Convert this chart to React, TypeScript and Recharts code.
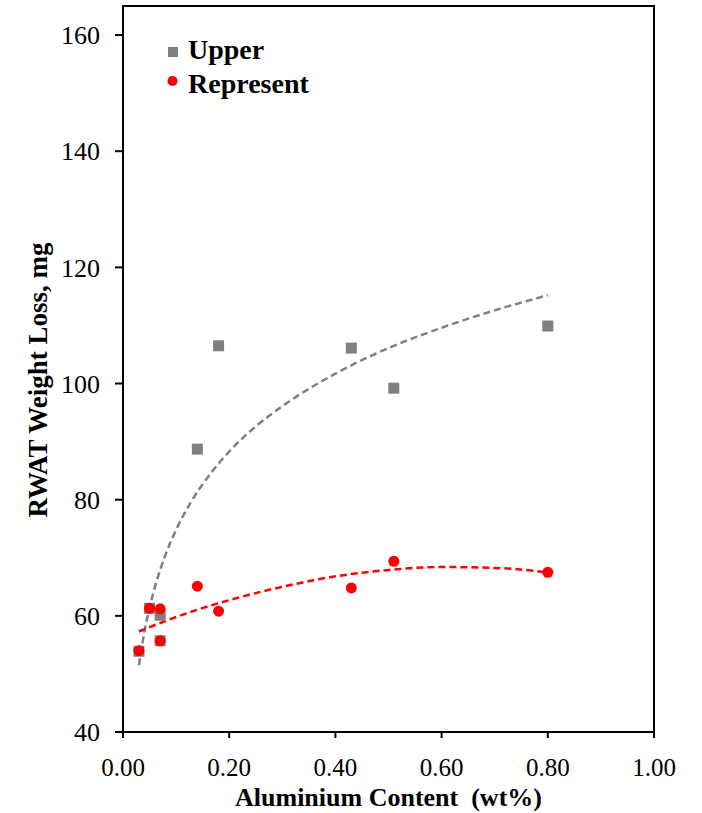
import React from 'react';
import { ComposedChart, Scatter, Line, XAxis, YAxis, ReferenceArea, Legend } from 'recharts';

const aluminium = [0.03, 0.05, 0.07, 0.07, 0.14, 0.18, 0.43, 0.51, 0.8];
const upperLoss = [53.9, 61.3, 60.1, 55.7, 88.7, 106.5, 106.1, 99.2, 109.9];
const representLoss = [54.0, 61.3, 61.2, 55.7, 65.1, 60.8, 64.8, 69.4, 67.5];

// dashed trend lines
const upperTrendX = [0.03, 0.04, 0.05, 0.06, 0.08, 0.1, 0.13, 0.16, 0.2, 0.25, 0.3, 0.4, 0.5, 0.6, 0.7, 0.8];
const upperTrendY = [51.5, 57.1, 61.4, 64.9, 70.5, 74.8, 79.9, 83.9, 88.3, 92.6, 96.1, 101.7, 106.1, 109.6, 112.6, 115.2];
const representTrendX = [0.03, 0.1, 0.2, 0.3, 0.4, 0.5, 0.6, 0.7, 0.8];
const representTrendY = [57.3, 59.8, 62.7, 65.0, 66.8, 67.9, 68.4, 68.25, 67.5];

const xTicks = [0, 0.2, 0.4, 0.6, 0.8, 1.0];
const xMinorTicks = [0, 0.04, 0.08, 0.12, 0.16, 0.2, 0.24, 0.28, 0.32, 0.36, 0.4, 0.44, 0.48, 0.52, 0.56, 0.6, 0.64, 0.68, 0.72, 0.76, 0.8, 0.84, 0.88, 0.92, 0.96, 1.0];
const yTicks = [40, 60, 80, 100, 120, 140, 160];
const yMinorTicks = [40, 45, 50, 55, 60, 65, 70, 75, 80, 85, 90, 95, 100, 105, 110, 115, 120, 125, 130, 135, 140, 145, 150, 155, 160, 165];

const upperData = aluminium.map((x, i) => ({ x, y: upperLoss[i] }));
const representData = aluminium.map((x, i) => ({ x, y: representLoss[i] }));
const upperTrend = upperTrendX.map((x, i) => ({ x, y: upperTrendY[i] }));
const representTrend = representTrendX.map((x, i) => ({ x, y: representTrendY[i] }));

const FONT = '"Liberation Serif", "Times New Roman", serif';
const GRAY = '#808080';
const RED = '#ff0000';

const Square = (props: any) => (
  <rect x={props.cx - 5.5} y={props.cy - 5.5} width={11} height={11} fill={GRAY} />
);
const Dot = (props: any) => <circle cx={props.cx} cy={props.cy} r={5.5} fill={RED} />;

const YTitle = (props: any) => {
  const vb = props.viewBox;
  const cx = vb.x + 10;
  const cy = vb.y + vb.height / 2 + 11;
  return (
    <text
      x={cx}
      y={cy}
      transform={`rotate(-90 ${cx} ${cy})`}
      textAnchor="middle"
      dominantBaseline="central"
      fontFamily={FONT}
      fontWeight="bold"
      fontSize={27}
      fill="#000"
    >
      RWAT Weight Loss, mg
    </text>
  );
};

const XTitle = (props: any) => {
  const vb = props.viewBox;
  return (
    <text
      x={vb.x + vb.width / 2}
      y={vb.y + 74}
      textAnchor="middle"
      fontFamily={FONT}
      fontWeight="bold"
      fontSize={26}
      fill="#000"
      style={{ whiteSpace: 'pre' }}
    >
      {'Aluminium Content  (wt%)'}
    </text>
  );
};

const LegendBox = () => (
  <svg width={200} height={80}>
    <rect x={8} y={17} width={10} height={10} fill={GRAY} />
    <text x={28} y={29} fontFamily={FONT} fontWeight="bold" fontSize={28} fill="#000">Upper</text>
    <circle cx={12.5} cy={51} r={5} fill={RED} />
    <text x={28} y={63} fontFamily={FONT} fontWeight="bold" fontSize={28} fill="#000">Represent</text>
  </svg>
);

export default function App() {
  const tickStyle = { fontFamily: FONT, fontSize: 25, fill: '#000' };
  return (
    <div style={{ position: 'absolute', left: 0, top: 0, background: '#fff' }}>
      <ComposedChart width={702} height={813} margin={{ top: 6, right: 48, left: 28, bottom: 0 }}>
        <XAxis
          xAxisId={0}
          dataKey="x"
          type="number"
          domain={[0, 1]}
          ticks={xTicks}
          allowDataOverflow
          height={81}
          tickSize={6}
          tickMargin={20}
          tickFormatter={(v: number) => v.toFixed(2)}
          tick={tickStyle}
          axisLine={{ stroke: '#000', strokeWidth: 2 }}
          tickLine={{ stroke: '#000', strokeWidth: 2 }}
          label={<XTitle />}
        />
        <XAxis
          xAxisId="minor"
          dataKey="x"
          type="number"
          domain={[0, 1]}
          ticks={xMinorTicks}
          allowDataOverflow
          mirror
          tick={false}
          tickSize={5}
          axisLine={false}
          tickLine={{ stroke: '#000', strokeWidth: 1.5 }}
        />
        <YAxis
          yAxisId={0}
          dataKey="y"
          type="number"
          domain={[40, 165]}
          ticks={yTicks}
          allowDataOverflow
          width={95}
          tickSize={8}
          tickMargin={15}
          tick={{ ...tickStyle, fontSize: 26 }}
          axisLine={{ stroke: '#000', strokeWidth: 2 }}
          tickLine={{ stroke: '#000', strokeWidth: 2 }}
          label={<YTitle />}
        />
        <YAxis
          yAxisId="minor"
          dataKey="y"
          type="number"
          domain={[40, 165]}
          ticks={yMinorTicks}
          allowDataOverflow
          mirror
          tick={false}
          tickSize={7}
          axisLine={false}
          tickLine={{ stroke: '#000', strokeWidth: 1.5 }}
        />
        <ReferenceArea x1={0} x2={1} y1={40} y2={165} fill="none" fillOpacity={0} stroke="#000" strokeWidth={2} />
        <Scatter name="Upper" data={upperData} dataKey="y" shape={Square} isAnimationActive={false} />
        <Scatter name="Represent" data={representData} dataKey="y" shape={Dot} isAnimationActive={false} />
        <Line
          data={upperTrend}
          dataKey="y"
          type="monotone"
          stroke={GRAY}
          strokeWidth={2.5}
          strokeDasharray="7 4"
          dot={false}
          activeDot={false}
          legendType="none"
          isAnimationActive={false}
        />
        <Line
          data={representTrend}
          dataKey="y"
          type="monotone"
          stroke={RED}
          strokeWidth={2.5}
          strokeDasharray="7 4"
          dot={false}
          activeDot={false}
          legendType="none"
          isAnimationActive={false}
        />
        <Legend
          layout="vertical"
          align="center"
          verticalAlign="middle"
          content={<LegendBox />}
          wrapperStyle={{ left: 160, top: 30, width: 200, height: 80 }}
        />
      </ComposedChart>
    </div>
  );
}
